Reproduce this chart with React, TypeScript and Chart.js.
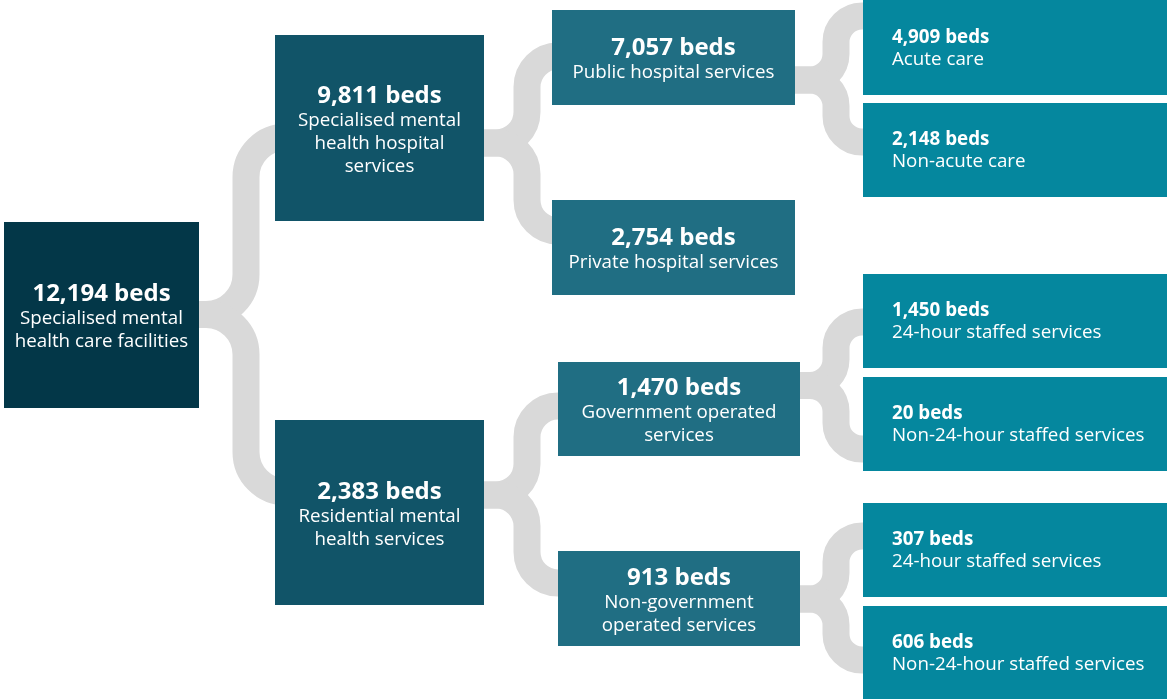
import React, { useEffect, useRef } from "react";
import { Chart, registerables } from "chart.js";

Chart.register(...registerables);

// ---------- data ----------
const nodeBeds = [12194, 9811, 2383, 7057, 2754, 1470, 913, 4909, 2148, 1450, 20, 307, 606];
const nodeNames: string[][] = [
  ["Specialised mental", "health care facilities"],
  ["Specialised mental", "health hospital", "services"],
  ["Residential mental", "health services"],
  ["Public hospital services"],
  ["Private hospital services"],
  ["Government operated", "services"],
  ["Non-government", "operated services"],
  ["Acute care"],
  ["Non-acute care"],
  ["24-hour staffed services"],
  ["Non-24-hour staffed services"],
  ["24-hour staffed services"],
  ["Non-24-hour staffed services"],
];
const nodeParents = [-1, 0, 0, 1, 1, 2, 2, 3, 3, 5, 5, 6, 6];
const nodeLevels = [0, 1, 1, 2, 2, 2, 2, 3, 3, 3, 3, 3, 3];

// ---------- layout (chart units) ----------
const boxLeft = [4, 275, 275, 552, 552, 558, 558, 863, 863, 863, 863, 863, 863];
const boxRight = [199, 484, 484, 795, 795, 800, 800, 1167, 1167, 1167, 1167, 1167, 1167];
const boxTop = [222, 35, 420, 10, 200, 362, 551, 0, 103, 274, 377, 503, 606];
const boxBottom = [408, 221, 605, 105, 295, 456, 646, 95, 197, 368, 471, 597, 699];
// connector geometry per parent node
const stemY: Record<number, number> = { 0: 314.5, 1: 143, 2: 495, 3: 80, 5: 385.5, 6: 599 };
const spineX: Record<number, number> = { 0: 246, 1: 527, 2: 527, 3: 836, 5: 836, 6: 836 };
const bendRadius: Record<number, number> = { 0: 40, 1: 31, 2: 31, 3: 26, 5: 26, 6: 26 };
const branchY = [0, 137, 492, 56, 231, 406, 583, 16, 142, 322, 449, 536, 660];

// ---------- styles ----------
const levelColors = ["#033748", "#115468", "#206e83", "#05879e"];
const connectorColor = "#d9d9d9";
const FONT = "'Open Sans', sans-serif";

const treePlugin = {
  id: "treeDraw",
  beforeDatasetsDraw(chart: any) {
    const ctx = chart.ctx;
    const xs = chart.scales.x;
    const ys = chart.scales.y;
    const X = (v: number) => xs.getPixelForValue(v);
    const Y = (v: number) => ys.getPixelForValue(v);
    ctx.save();
    // connectors
    ctx.strokeStyle = connectorColor;
    ctx.lineWidth = 27;
    ctx.lineCap = "butt";
    ctx.lineJoin = "round";
    nodeParents.forEach((p, i) => {
      if (p < 0) return;
      const px = X(boxRight[p] - 3);
      const sy = Y(stemY[p]);
      const vx = X(spineX[p]);
      const cy = Y(branchY[i]);
      const cx = X(boxLeft[i] + 3);
      const r = bendRadius[p];
      ctx.beginPath();
      ctx.moveTo(px, sy);
      ctx.arcTo(vx, sy, vx, cy, r);
      ctx.arcTo(vx, cy, cx, cy, r);
      ctx.lineTo(cx, cy);
      ctx.stroke();
    });
    // boxes
    nodeBeds.forEach((_, i) => {
      const x0 = X(boxLeft[i]);
      const x1 = X(boxRight[i]);
      const y0 = Y(boxTop[i]);
      const y1 = Y(boxBottom[i]);
      ctx.fillStyle = levelColors[nodeLevels[i]];
      ctx.fillRect(x0, y0, x1 - x0, y1 - y0);
    });
    // text
    ctx.fillStyle = "#ffffff";
    ctx.textBaseline = "middle";
    nodeBeds.forEach((beds, i) => {
      const lvl = nodeLevels[i];
      const small = lvl === 3;
      const boldSize = small ? 18.8 : 24;
      const regSize = 18.75;
      const firstGap = small ? 22 : 24.5;
      const lineGap = 23;
      const lines = nodeNames[i];
      const offsets = [0];
      lines.forEach((_, k) => offsets.push(firstGap + k * lineGap));
      const blockH = offsets[offsets.length - 1];
      const cyBox = (Y(boxTop[i]) + Y(boxBottom[i])) / 2 + (small ? 1 : 3);
      const startY = cyBox - blockH / 2;
      let tx: number;
      if (small) {
        ctx.textAlign = "left";
        tx = X(boxLeft[i]) + 29;
      } else {
        ctx.textAlign = "center";
        tx = (X(boxLeft[i]) + X(boxRight[i])) / 2;
      }
      ctx.font = `bold ${boldSize}px ${FONT}`;
      ctx.fillText(`${beds.toLocaleString("en-US")} beds`, tx, startY);
      ctx.font = `${regSize}px ${FONT}`;
      lines.forEach((ln, k) => ctx.fillText(ln, tx, startY + offsets[k + 1]));
    });
    ctx.restore();
  },
};

export default function App() {
  const canvasRef = useRef<HTMLCanvasElement | null>(null);
  useEffect(() => {
    if (!canvasRef.current) return;
    const centers = nodeBeds.map((_, i) => ({
      x: (boxLeft[i] + boxRight[i]) / 2,
      y: (boxTop[i] + boxBottom[i]) / 2,
    }));
    const chart = new Chart(canvasRef.current, {
      type: "scatter",
      data: {
        datasets: [
          {
            data: centers,
            pointRadius: 0,
            pointHoverRadius: 0,
          },
        ],
      },
      options: {
        animation: false,
        responsive: false,
        maintainAspectRatio: false,
        layout: { padding: 0 },
        events: [],
        plugins: { legend: { display: false }, tooltip: { enabled: false } },
        scales: {
          x: { type: "linear", min: 0, max: 1168, display: false },
          y: { type: "linear", min: 0, max: 699, reverse: true, display: false },
        },
      },
      plugins: [treePlugin],
    });
    return () => chart.destroy();
  }, []);
  return (
    <div style={{ position: "fixed", left: 0, top: 0, width: 1168, height: 699, background: "#ffffff" }}>
      <canvas ref={canvasRef} width={1168} height={699} style={{ display: "block" }} />
    </div>
  );
}
